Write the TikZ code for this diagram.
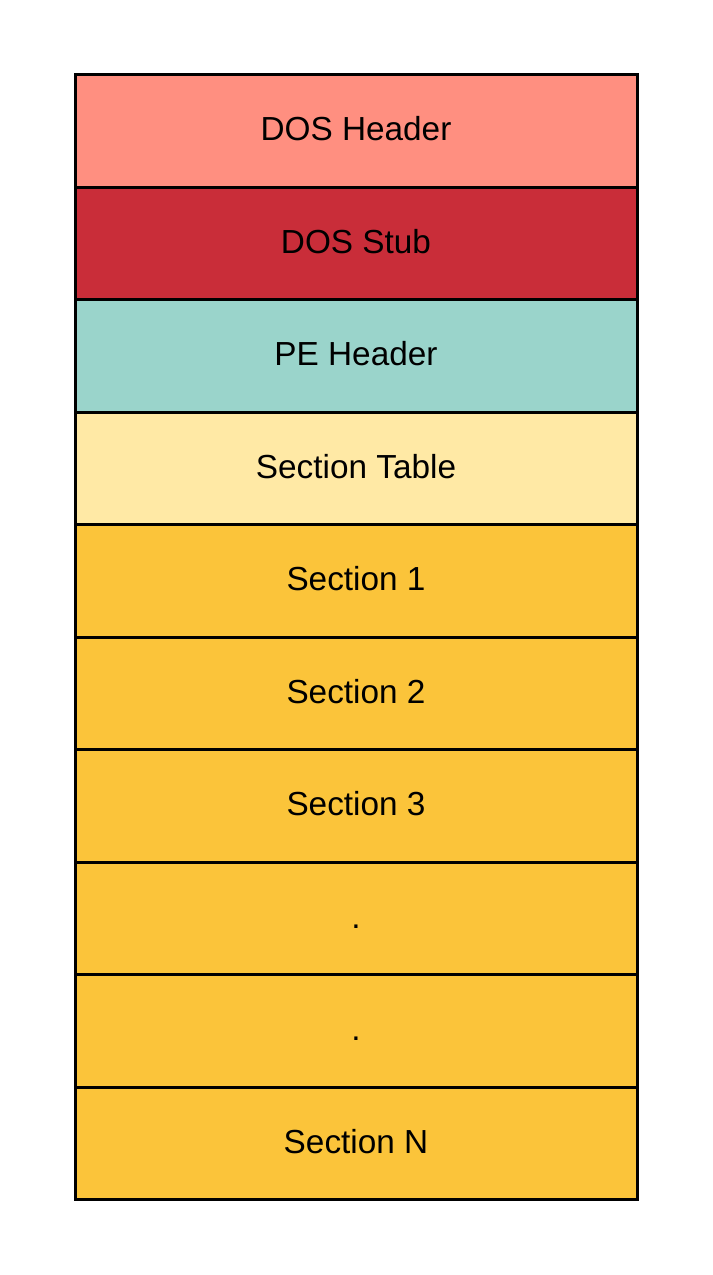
\documentclass[tikz,border=0pt]{standalone}
\usepackage{fontspec}
\setmainfont{Liberation Sans}
\usepackage{tikz}
\usetikzlibrary{positioning}

\definecolor{dosheadcol}{HTML}{FF8F80}
\definecolor{dosstubcol}{HTML}{C92D39}
\definecolor{peheadcol}{HTML}{9AD4CB}
\definecolor{secttabcol}{HTML}{FFE9A5}
\definecolor{sectcol}{HTML}{FBC43A}

\tikzset{
	block/.style={draw=black, line width=2.25pt, minimum width=562*0.75pt,
		minimum height=112.5*0.75pt, inner sep=0pt, outer sep=0pt,
		text height=18pt, text depth=3pt,
		font=\fontsize{25pt}{29pt}\selectfont},
}

\begin{document}
\begin{tikzpicture}[x=0.75pt, y=-0.75pt]
	\useasboundingbox (0,0) rectangle (713,1275);
	
	% Drawing the headers
	\node[block, fill=dosheadcol] (doshead) at (356,130.75) {DOS Header};
	\node[block, fill=dosstubcol] (dosstub) at (356,243.25) {DOS Stub};
	\node[block, fill=peheadcol] (pehead) at (356,355.75) {PE Header};
	\node[block, fill=secttabcol] (secttab) at (356,468.25) {Section Table};
	
	% Drawing the sections
	\node[block, fill=sectcol] (sectA) at (356,580.75) {Section 1};
	\node[block, fill=sectcol] (sectB) at (356,693.25) {Section 2};
	\node[block, fill=sectcol] (sectC) at (356,805.75) {Section 3};
	\node[block, fill=sectcol] (dotsA) at (356,918.25) {.};
	\node[block, fill=sectcol] (dotsB) at (356,1030.75) {.};
	\node[block, fill=sectcol] (sectN) at (356,1143.25) {Section N};
\end{tikzpicture}
\end{document}
